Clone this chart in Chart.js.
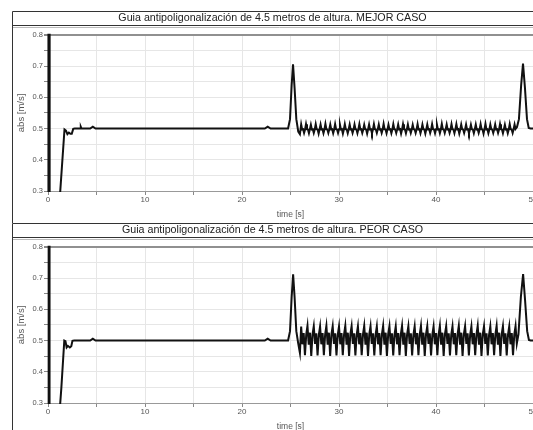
<!DOCTYPE html>
<html lang="es">
<head>
<meta charset="UTF-8">
<title>Guia antipoligonalización de 4.5 metros de altura</title>
<script src="https://cdn.jsdelivr.net/npm/chart.js@4.4.1/dist/chart.umd.min.js"></script>
<style>
  body { margin: 0; background: #fff; overflow: hidden; width: 533px; height: 430px; }
  canvas { position: absolute; left: 12px; }
  #best { top: 11px; }
  #worst { top: 223px; }
</style>
</head>
<body>
<canvas id="best" width="534" height="212"></canvas>
<canvas id="worst" width="534" height="212"></canvas>
<script>
// --- data (time in s, abs in m/s) ---
const xTicks = [0, 10, 20, 30, 40, 50];
const yTicks = [0.3, 0.4, 0.5, 0.6, 0.7, 0.8];

const bestHeadTime = [0, 0.03, 0.06, 0.11, 0.14, 0.17, 0.2, 0.6, 1.7, 1.85, 2.0, 2.15, 2.3, 2.45, 2.6, 2.75, 3.3, 3.38, 3.46, 4.35, 4.62, 4.9,
  22.35, 22.65, 22.95, 24.75, 24.95, 25.12, 25.26, 25.42, 25.6, 25.8, 25.97];
const bestHeadAbs = [0, 1.5, 0, 1.5, 0, 0.41, 0, 0, 0.497, 0.493, 0.482, 0.487, 0.483, 0.483, 0.499, 0.5, 0.5, 0.506, 0.5, 0.5, 0.506, 0.5,
  0.5, 0.506, 0.5, 0.5, 0.53, 0.64, 0.706, 0.63, 0.53, 0.49, 0.482];

const worstHeadTime = [0, 0.03, 0.06, 0.08, 0.1, 0.12, 0.14, 0.16, 0.18, 0.55, 1.38, 1.68, 1.8, 1.92, 2.05, 2.25, 2.4, 2.52, 2.7, 4.35, 4.62, 4.9,
  22.35, 22.65, 22.95, 24.75, 24.95, 25.12, 25.27, 25.42, 25.6, 25.8, 25.97];
const worstHeadAbs = [0, 1.5, 0, 0.55, 0, 1.5, 0, 0.74, 0, 0, 0.35, 0.5, 0.498, 0.478, 0.483, 0.478, 0.482, 0.499, 0.5, 0.5, 0.506, 0.5,
  0.5, 0.506, 0.5, 0.5, 0.53, 0.64, 0.712, 0.64, 0.53, 0.49, 0.46];

// oscillating stretch, best case: small up and down teeth round 0.5
const bestOscTime = [
  26.1, 26.2, 26.3, 26.4, 26.5, 26.6, 26.7, 26.8, 26.9, 27.0,
  27.1, 27.2, 27.3, 27.4, 27.5, 27.6, 27.7, 27.8, 27.9, 28.0,
  28.1, 28.2, 28.3, 28.4, 28.5, 28.6, 28.7, 28.8, 28.9, 29.0,
  29.1, 29.2, 29.3, 29.4, 29.5, 29.6, 29.7, 29.8, 29.9, 30.0,
  30.1, 30.2, 30.3, 30.4, 30.5, 30.6, 30.7, 30.8, 30.9, 31.0,
  31.1, 31.2, 31.3, 31.4, 31.5, 31.6, 31.7, 31.8, 31.9, 32.0,
  32.1, 32.2, 32.3, 32.4, 32.5, 32.6, 32.7, 32.8, 32.9, 33.0,
  33.1, 33.2, 33.3, 33.4, 33.5, 33.6, 33.7, 33.8, 33.9, 34.0,
  34.1, 34.2, 34.3, 34.4, 34.5, 34.6, 34.7, 34.8, 34.9, 35.0,
  35.1, 35.2, 35.3, 35.4, 35.5, 35.6, 35.7, 35.8, 35.9, 36.0,
  36.1, 36.2, 36.3, 36.4, 36.5, 36.6, 36.7, 36.8, 36.9, 37.0,
  37.1, 37.2, 37.3, 37.4, 37.5, 37.6, 37.7, 37.8, 37.9, 38.0,
  38.1, 38.2, 38.3, 38.4, 38.5, 38.6, 38.7, 38.8, 38.9, 39.0,
  39.1, 39.2, 39.3, 39.4, 39.5, 39.6, 39.7, 39.8, 39.9, 40.0,
  40.1, 40.2, 40.3, 40.4, 40.5, 40.6, 40.7, 40.8, 40.9, 41.0,
  41.1, 41.2, 41.3, 41.4, 41.5, 41.6, 41.7, 41.8, 41.9, 42.0,
  42.1, 42.2, 42.3, 42.4, 42.5, 42.6, 42.7, 42.8, 42.9, 43.0,
  43.1, 43.2, 43.3, 43.4, 43.5, 43.6, 43.7, 43.8, 43.9, 44.0,
  44.1, 44.2, 44.3, 44.4, 44.5, 44.6, 44.7, 44.8, 44.9, 45.0,
  45.1, 45.2, 45.3, 45.4, 45.5, 45.6, 45.7, 45.8, 45.9, 46.0,
  46.1, 46.2, 46.3, 46.4, 46.5, 46.6, 46.7, 46.8, 46.9, 47.0,
  47.1, 47.2, 47.3, 47.4, 47.5, 47.6, 47.7, 47.8, 47.9, 48.0,
  48.1, 48.2];
const bestOscAbs = [
  0.513, 0.497, 0.498, 0.486, 0.497, 0.514, 0.498, 0.497, 0.485, 0.498,
  0.512, 0.497, 0.498, 0.486, 0.497, 0.514, 0.498, 0.497, 0.484, 0.498,
  0.513, 0.497, 0.498, 0.485, 0.497, 0.515, 0.498, 0.497, 0.486, 0.498,
  0.513, 0.497, 0.498, 0.485, 0.497, 0.514, 0.498, 0.497, 0.486, 0.498,
  0.512, 0.497, 0.498, 0.484, 0.497, 0.514, 0.498, 0.497, 0.485, 0.498,
  0.513, 0.497, 0.498, 0.486, 0.497, 0.513, 0.498, 0.497, 0.485, 0.498,
  0.514, 0.497, 0.498, 0.486, 0.497, 0.512, 0.498, 0.497, 0.484, 0.498,
  0.513, 0.497, 0.498, 0.485, 0.497, 0.514, 0.498, 0.497, 0.486, 0.498,
  0.513, 0.497, 0.498, 0.486, 0.497, 0.515, 0.498, 0.497, 0.485, 0.498,
  0.512, 0.497, 0.498, 0.485, 0.497, 0.514, 0.498, 0.497, 0.486, 0.498,
  0.513, 0.497, 0.498, 0.484, 0.497, 0.514, 0.498, 0.497, 0.485, 0.498,
  0.513, 0.497, 0.498, 0.486, 0.497, 0.512, 0.498, 0.497, 0.486, 0.498,
  0.514, 0.497, 0.498, 0.485, 0.497, 0.513, 0.498, 0.497, 0.484, 0.498,
  0.513, 0.497, 0.498, 0.486, 0.497, 0.514, 0.498, 0.497, 0.485, 0.498,
  0.512, 0.497, 0.498, 0.485, 0.497, 0.515, 0.498, 0.497, 0.486, 0.498,
  0.513, 0.497, 0.498, 0.486, 0.497, 0.514, 0.498, 0.497, 0.485, 0.498,
  0.514, 0.497, 0.498, 0.484, 0.497, 0.513, 0.498, 0.497, 0.486, 0.498,
  0.513, 0.497, 0.498, 0.485, 0.497, 0.512, 0.498, 0.497, 0.485, 0.498,
  0.513, 0.497, 0.498, 0.486, 0.497, 0.514, 0.498, 0.497, 0.484, 0.498,
  0.515, 0.497, 0.498, 0.485, 0.497, 0.513, 0.498, 0.497, 0.486, 0.498,
  0.513, 0.497, 0.498, 0.486, 0.497, 0.514, 0.498, 0.497, 0.485, 0.498,
  0.512, 0.497, 0.498, 0.485, 0.497, 0.514, 0.498, 0.497, 0.486, 0.498,
  0.513, 0.499];

// oscillating stretch, worst case: tall spikes over a dense band
const worstOscTime = [
  26.10, 26.23, 26.36, 26.49, 26.62, 26.75, 26.88, 27.01, 27.14, 27.27,
  27.40, 27.53, 27.66, 27.79, 27.92, 28.05, 28.18, 28.31, 28.44, 28.57,
  28.70, 28.83, 28.96, 29.09, 29.22, 29.35, 29.48, 29.61, 29.74, 29.87,
  30.00, 30.13, 30.26, 30.39, 30.52, 30.65, 30.78, 30.91, 31.04, 31.17,
  31.30, 31.43, 31.56, 31.69, 31.82, 31.95, 32.08, 32.21, 32.34, 32.47,
  32.60, 32.73, 32.86, 32.99, 33.12, 33.25, 33.38, 33.51, 33.64, 33.77,
  33.90, 34.03, 34.16, 34.29, 34.42, 34.55, 34.68, 34.81, 34.94, 35.07,
  35.20, 35.33, 35.46, 35.59, 35.72, 35.85, 35.98, 36.11, 36.24, 36.37,
  36.50, 36.63, 36.76, 36.89, 37.02, 37.15, 37.28, 37.41, 37.54, 37.67,
  37.80, 37.93, 38.06, 38.19, 38.32, 38.45, 38.58, 38.71, 38.84, 38.97,
  39.10, 39.23, 39.36, 39.49, 39.62, 39.75, 39.88, 40.01, 40.14, 40.27,
  40.40, 40.53, 40.66, 40.79, 40.92, 41.05, 41.18, 41.31, 41.44, 41.57,
  41.70, 41.83, 41.96, 42.09, 42.22, 42.35, 42.48, 42.61, 42.74, 42.87,
  43.00, 43.13, 43.26, 43.39, 43.52, 43.65, 43.78, 43.91, 44.04, 44.17,
  44.30, 44.43, 44.56, 44.69, 44.82, 44.95, 45.08, 45.21, 45.34, 45.47,
  45.60, 45.73, 45.86, 45.99, 46.12, 46.25, 46.38, 46.51, 46.64, 46.77,
  46.90, 47.03, 47.16, 47.29, 47.42, 47.55, 47.68, 47.81, 47.94, 48.07,
  48.20];
const worstOscAbs = [
  0.545, 0.488, 0.524, 0.453, 0.519, 0.547, 0.487, 0.525, 0.451, 0.520,
  0.546, 0.489, 0.523, 0.452, 0.518, 0.545, 0.488, 0.524, 0.453, 0.519,
  0.547, 0.487, 0.525, 0.451, 0.520, 0.546, 0.489, 0.523, 0.452, 0.518,
  0.545, 0.488, 0.524, 0.453, 0.519, 0.547, 0.487, 0.525, 0.451, 0.520,
  0.546, 0.489, 0.523, 0.452, 0.518, 0.545, 0.488, 0.524, 0.453, 0.519,
  0.547, 0.487, 0.525, 0.451, 0.520, 0.546, 0.489, 0.523, 0.452, 0.518,
  0.545, 0.488, 0.524, 0.453, 0.519, 0.547, 0.487, 0.525, 0.451, 0.520,
  0.546, 0.489, 0.523, 0.452, 0.518, 0.545, 0.488, 0.524, 0.453, 0.519,
  0.547, 0.487, 0.525, 0.451, 0.520, 0.546, 0.489, 0.523, 0.452, 0.518,
  0.545, 0.488, 0.524, 0.453, 0.519, 0.547, 0.487, 0.525, 0.451, 0.520,
  0.546, 0.489, 0.523, 0.452, 0.518, 0.545, 0.488, 0.524, 0.453, 0.519,
  0.547, 0.487, 0.525, 0.451, 0.520, 0.546, 0.489, 0.523, 0.452, 0.518,
  0.545, 0.488, 0.524, 0.453, 0.519, 0.547, 0.487, 0.525, 0.451, 0.520,
  0.546, 0.489, 0.523, 0.452, 0.518, 0.545, 0.488, 0.524, 0.453, 0.519,
  0.547, 0.487, 0.525, 0.451, 0.520, 0.546, 0.489, 0.523, 0.452, 0.518,
  0.545, 0.488, 0.524, 0.453, 0.519, 0.547, 0.487, 0.525, 0.451, 0.520,
  0.546, 0.489, 0.523, 0.452, 0.518, 0.545, 0.488, 0.524, 0.453, 0.519,
  0.546];

const bestTailTime = [48.35, 48.55, 48.78, 48.97, 49.17, 49.38, 49.56, 49.75, 51];
const bestTailAbs = [0.505, 0.53, 0.64, 0.708, 0.63, 0.53, 0.502, 0.5, 0.5];
const worstTailTime = [48.33, 48.5, 48.75, 48.98, 49.18, 49.4, 49.58, 49.75, 51];
const worstTailAbs = [0.49, 0.52, 0.64, 0.713, 0.63, 0.53, 0.502, 0.5, 0.5];

Chart.defaults.font.family = "'Liberation Sans', Arial, sans-serif";

// draws the outer frame and the box round the title
const frameBox = {
  id: 'frameBox',
  afterDraw(chart) {
    const c = chart.ctx, w = chart.width, h = chart.height;
    const barBottom = chart.titleBlock.top + 14.5;
    c.save();
    c.strokeStyle = '#333';
    c.lineWidth = 1;
    c.beginPath();
    c.moveTo(0.5, h); c.lineTo(0.5, 0.5); c.lineTo(w, 0.5);
    c.moveTo(0, barBottom); c.lineTo(w, barBottom);
    c.stroke();
    c.strokeStyle = '#bbb';
    c.beginPath();
    c.moveTo(1, barBottom + 2); c.lineTo(w, barBottom + 2);
    c.stroke();
    c.restore();
  }
};

function points(times, values) {
  return times.map((t, i) => ({ x: t, y: values[i] }));
}

function makeChart(id, title, times, values) {
  new Chart(document.getElementById(id), {
    type: 'line',
    data: {
      datasets: [{
        data: points(times, values),
        borderColor: '#111',
        borderWidth: 2,
        pointRadius: 0,
        tension: 0,
        fill: false,
        clip: 1
      }]
    },
    options: {
      responsive: false,
      animation: false,
      devicePixelRatio: 1,
      layout: { padding: { right: 13 } },
      plugins: {
        legend: { display: false },
        tooltip: { enabled: false },
        title: {
          display: true,
          text: title,
          color: '#222',
          font: { size: 10.7, weight: 'normal' },
          padding: { top: 1, bottom: 10 }
        }
      },
      scales: {
        x: {
          type: 'linear',
          min: xTicks[0],
          max: xTicks[xTicks.length - 1],
          afterFit: s => { s.height = 32; },
          ticks: {
            stepSize: 5,
            autoSkip: false,
            maxRotation: 0,
            padding: 0,
            color: '#555',
            font: { size: 8 },
            callback: v => xTicks.includes(v) ? String(v) : ''
          },
          grid: { color: '#e6e6e6', tickLength: 4, tickColor: '#888' },
          border: { color: '#999' },
          title: {
            display: true,
            text: 'time [s]',
            color: '#555',
            font: { size: 8.5 },
            padding: { top: 0, bottom: 3 }
          }
        },
        y: {
          min: yTicks[0],
          max: yTicks[yTicks.length - 1],
          afterFit: s => { s.width = 36; },
          ticks: {
            stepSize: 0.05,
            autoSkip: false,
            padding: 1,
            color: '#555',
            font: { size: 7.5 },
            callback: v => yTicks.some(t => Math.abs(t - v) < 1e-6) ? v.toFixed(1) : ''
          },
          grid: {
            color: c => (c.tick && Math.abs(c.tick.value - 0.8) < 1e-6) ? '#909090' : '#e6e6e6',
            lineWidth: c => (c.tick && Math.abs(c.tick.value - 0.8) < 1e-6) ? 2 : 1,
            tickLength: 4,
            tickColor: '#888'
          },
          border: { color: '#999' },
          title: {
            display: true,
            text: 'abs [m/s]',
            color: '#555',
            font: { size: 9.5 },
            padding: { top: 4, bottom: 0 }
          }
        }
      }
    },
    plugins: [frameBox]
  });
}

makeChart('best', 'Guia antipoligonalización de 4.5 metros de altura. MEJOR CASO',
  bestHeadTime.concat(bestOscTime, bestTailTime), bestHeadAbs.concat(bestOscAbs, bestTailAbs));
makeChart('worst', 'Guia antipoligonalización de 4.5 metros de altura. PEOR CASO',
  worstHeadTime.concat(worstOscTime, worstTailTime), worstHeadAbs.concat(worstOscAbs, worstTailAbs));
</script>
</body>
</html>
